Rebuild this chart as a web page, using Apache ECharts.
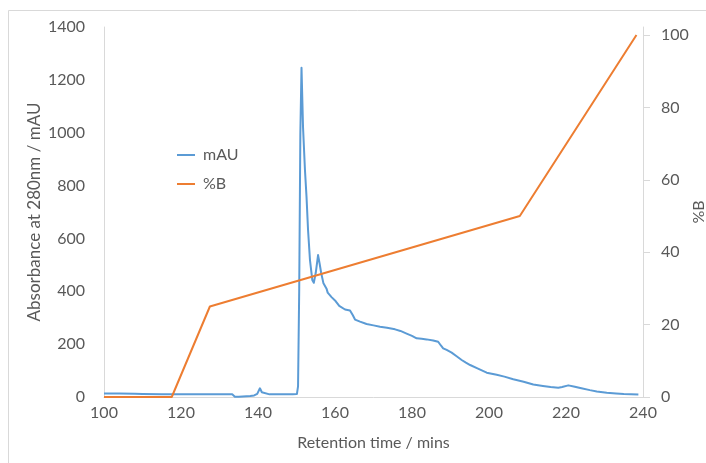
<!DOCTYPE html>
<html>
<head>
<meta charset="utf-8">
<script src="https://cdn.jsdelivr.net/npm/echarts@6/dist/echarts.min.js"></script>
<style>
  html, body { margin: 0; padding: 0; background: #ffffff; }
  #chart { width: 706px; height: 463px; }
</style>
</head>
<body>
<div id="chart"></div>
<script>
// Chromatogram: UV absorbance trace (mAU) and solvent gradient (%B)
const retentionTime = [
  100, 104, 108, 110, 115, 120, 125, 130, 133.3, 133.6, 134, 135, 136, 137, 138, 139, 139.8,
  140.5, 141.0, 141.5, 143, 146, 149, 150.1, 150.4, 150.7, 151.0, 151.3, 151.7, 152.2, 152.6,
  153.0, 153.5, 154.1, 154.5, 155.0, 155.6, 156.0, 156.4, 157.0, 157.8, 158.1, 159.1, 160.2,
  161.1, 162.6, 163.9, 164.6, 165.2, 166.5, 168.2, 170, 171.7, 173.5, 175.6, 177, 178.6, 180,
  181.2, 182.5, 183.8, 185.5, 186.8, 187.5, 188.1, 189, 190.3, 191.5, 192.9, 194, 195.1, 197,
  199.4, 202, 204, 206.3, 209, 211.5, 214, 216, 218, 219, 220.6, 222, 224, 226.2, 228, 230.6,
  233, 235, 238.8
];
const absorbance = [
  13, 13, 12, 11, 10, 10, 10, 10, 10, 3, 1, 1, 2, 3, 4, 6, 12,
  33, 18, 11, 10, 10, 10, 11, 40, 400, 1000, 1246, 1020, 858, 758,
  632, 518, 443, 432, 470, 537, 505, 470, 430, 410, 395, 378, 362,
  345, 331, 327, 310, 293, 285, 276, 271, 266, 262, 256, 250, 240, 231,
  222, 220, 218, 214, 209, 195, 184, 178, 168, 155, 140, 130, 121, 108,
  92, 84, 77, 67, 58, 47, 42, 38, 35, 38, 44, 40, 33, 26, 21, 16,
  13, 11, 9
];

const gradientTime = [100, 117.6, 127.5, 208, 238.3];
const percentB = [0, 0, 25, 50, 100];

const xTicks = [100, 120, 140, 160, 180, 200, 220, 240];
const leftTicks = [0, 200, 400, 600, 800, 1000, 1200, 1400];
const rightTicks = [0, 20, 40, 60, 80, 100];

const pair = (xs, ys) => xs.map((x, i) => [x, ys[i]]);

const FONT = 'Lato, "Open Sans", sans-serif';
const TEXT = '#595959';
const AXIS = '#d9d9d9';
const plain = v => String(v);

const chart = echarts.init(document.getElementById('chart'), null, { renderer: 'canvas' });
chart.setOption({
  backgroundColor: '#ffffff',
  animation: false,
  textStyle: { fontFamily: FONT, color: TEXT },
  graphic: [{
    type: 'rect',
    shape: { x: 8.5, y: 10.5, width: 760, height: 520 },
    style: { fill: 'none', stroke: '#d9d9d9', lineWidth: 1 },
    silent: true, z: -1
  }],
  grid: { left: 104, right: 63, top: 27, bottom: 66, containLabel: false, outerBoundsMode: 'none' },
  legend: {
    orient: 'vertical',
    left: 172,
    top: 142,
    icon: 'rect',
    itemWidth: 18,
    itemHeight: 2,
    itemGap: 13,
    textStyle: { fontFamily: FONT, fontSize: 16, color: TEXT, padding: [0, 0, 0, 3] },
    data: ['mAU', '%B']
  },
  xAxis: {
    type: 'value',
    min: xTicks[0],
    max: xTicks[xTicks.length - 1],
    interval: 20,
    name: 'Retention time / mins',
    nameLocation: 'middle',
    nameGap: 38,
    nameMoveOverlap: false,
    nameTextStyle: { fontFamily: FONT, fontSize: 16, color: TEXT },
    axisLine: { show: true, lineStyle: { color: AXIS, width: 1 } },
    axisTick: { show: false },
    axisLabel: { fontFamily: FONT, fontSize: 16, color: TEXT, margin: 8, formatter: plain },
    splitLine: { show: false }
  },
  yAxis: [{
    type: 'value',
    position: 'left',
    min: leftTicks[0],
    max: leftTicks[leftTicks.length - 1],
    interval: 200,
    name: 'Absorbance at 280nm / mAU',
    nameLocation: 'middle',
    nameRotate: 90,
    nameGap: 61,
    nameMoveOverlap: false,
    nameTextStyle: { fontFamily: FONT, fontSize: 17, color: TEXT },
    axisLine: { show: true, lineStyle: { color: AXIS, width: 1 } },
    axisTick: { show: false },
    axisLabel: { fontFamily: FONT, fontSize: 16, color: TEXT, margin: 19, formatter: plain },
    splitLine: { show: false }
  }, {
    type: 'value',
    position: 'right',
    min: 0,
    max: 102.2,
    name: '%B',
    nameLocation: 'middle',
    nameRotate: 90,
    nameGap: 48,
    nameMoveOverlap: false,
    nameTextStyle: { fontFamily: FONT, fontSize: 16, color: TEXT },
    axisLine: { show: true, lineStyle: { color: AXIS, width: 1 } },
    axisTick: { show: true, inside: false, length: 7, customValues: rightTicks, lineStyle: { color: AXIS } },
    axisLabel: { fontFamily: FONT, fontSize: 16, color: TEXT, margin: 18, customValues: rightTicks, formatter: plain },
    splitLine: { show: false }
  }],
  series: [{
    name: 'mAU',
    type: 'line',
    yAxisIndex: 0,
    data: pair(retentionTime, absorbance),
    showSymbol: false,
    symbol: 'none',
    color: '#5B9BD5',
    lineStyle: { color: '#5B9BD5', width: 2, join: 'round' },
    z: 2
  }, {
    name: '%B',
    type: 'line',
    yAxisIndex: 1,
    data: pair(gradientTime, percentB),
    showSymbol: false,
    symbol: 'none',
    color: '#ED7D31',
    lineStyle: { color: '#ED7D31', width: 2 },
    z: 3
  }]
});
</script>
</body>
</html>
